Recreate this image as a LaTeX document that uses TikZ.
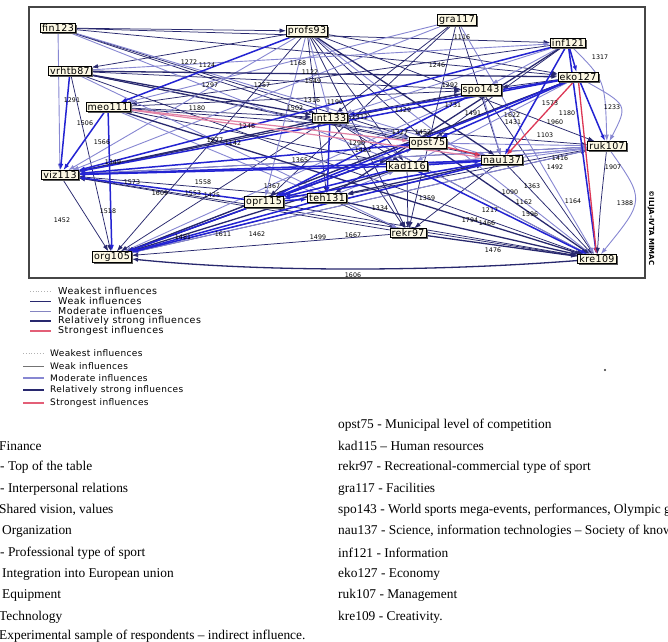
\documentclass[tikz,border=0pt]{standalone}
\usepackage{fontspec}
\setmainfont{Liberation Serif}
\newfontfamily\labfont{DejaVu Sans}
\newfontfamily\legfont[LetterSpace=5]{DejaVu Sans}
\newfontfamily\legfontb[LetterSpace=4]{DejaVu Sans}
\newfontfamily\boxfont[LetterSpace=4]{DejaVu Sans}
\usetikzlibrary{arrows.meta,shadows}
\definecolor{weakc}{RGB}{40,40,110}
\definecolor{modc}{RGB}{135,135,210}
\definecolor{rsc}{RGB}{35,35,210}
\definecolor{strc}{RGB}{220,55,85}
\definecolor{pinkc}{RGB}{225,130,165}
\definecolor{boxc}{RGB}{252,248,228}
\definecolor{framec}{RGB}{70,70,70}
\begin{document}
\begin{tikzpicture}[x=1pt,y=-1pt,
  lab/.style={draw=black,line width=0.8pt,fill=boxc,inner xsep=1.6pt,inner ysep=0.9pt,
    font=\boxfont\fontsize{9.5}{10}\selectfont,
    drop shadow={shadow xshift=1.6pt,shadow yshift=-1.6pt,fill=black!65,opacity=1}},
  ghost/.style={inner xsep=1.6pt,inner ysep=0.9pt,font=\boxfont\fontsize{9.5}{10}\selectfont,text opacity=0},
  num/.style={font=\labfont\fontsize{6.3}{6.3}\selectfont,inner sep=0.5pt},
  tip/.style={-{Latex[length=6.5pt,width=4.5pt]}},
  weak/.style={tip,draw=weakc,line width=0.75pt},
  mod/.style={tip,draw=modc,line width=0.9pt},
  rs/.style={tip,draw=rsc,line width=1.5pt},
  rsd/.style={tip,draw=weakc,line width=1.3pt},
  strong/.style={tip,draw=strc,line width=1.3pt},
  pink/.style={tip,draw=pinkc,line width=1.2pt},
  lg1/.style={draw=black!30,dotted,line width=0.8pt},
  lg2/.style={draw=weakc,line width=0.8pt},
  lg3/.style={draw=modc!80!gray,line width=1pt},
  lg4/.style={draw=weakc,line width=1.6pt},
  lg5/.style={draw=strc!80,line width=1.6pt},
  lh1/.style={draw=black!30,dotted,line width=0.8pt},
  lh2/.style={draw=black!55,line width=0.9pt},
  lh3/.style={draw=modc,line width=1.1pt},
  lh4/.style={draw=weakc,line width=1.7pt},
  lh5/.style={draw=strc!80,line width=1.7pt},
  legtxt/.style={font=\legfont\fontsize{9.5}{9.5}\selectfont,anchor=west,inner sep=0pt},
  legtxtb/.style={font=\legfontb\fontsize{9}{9}\selectfont,anchor=west,inner sep=0pt},
  txt/.style={font=\fontsize{13.4}{15}\selectfont,anchor=west,inner sep=0pt}]
\useasboundingbox (0,0) rectangle (668,641);
\clip (0,0) rectangle (668,641);
\fill[white] (0,0) rectangle (668,641);
% frame
\draw[framec,line width=1.4pt] (29,7) rectangle (645,278);
% positions
\path
  (58,28) coordinate (pfin) (70,71) coordinate (pvrh) (108,107) coordinate (pmeo)
  (60,175) coordinate (pviz) (112,257) coordinate (porg) (307,31) coordinate (pprof)
  (457,20) coordinate (pgra) (568,43) coordinate (pinf) (578,77) coordinate (peko)
  (481,90) coordinate (pspo) (330,118) coordinate (pint) (428,143) coordinate (popst)
  (407,166) coordinate (pkad) (502,160) coordinate (pnau) (607,146) coordinate (pruk)
  (264,202) coordinate (popr) (327,198) coordinate (pteh) (408,233) coordinate (prekr)
  (597,259) coordinate (pkre);
% invisible sizing nodes for connectors
\foreach \n/\t in {fin/fin123,vrh/vrhtb87,meo/meo111,viz/viz113,org/org105,prof/profs93,
  gra/gra117,inf/inf121,eko/eko127,spo/spo143,int/int133,opst/opst75,kad/kad116,
  nau/nau137,ruk/ruk107,opr/opr115,teh/teh131,rekr/rekr97,kre/kre109}
  \node[ghost] (\n) at (p\n) {\t};
% edges
\foreach \a/\b in {fin/inf,fin/opst,fin/int,fin/eko,vrh/org,vrh/nau,vrh/kre,vrh/spo,
  meo/kad,meo/int,meo/ruk,prof/vrh,prof/kad,prof/opst,prof/eko,prof/ruk,prof/teh,
  prof/rekr,prof/org,gra/nau,gra/int,gra/rekr,inf/opst,inf/meo,eko/spo,spo/viz,
  spo/int,spo/kre,int/kre,int/org,int/kad,int/rekr,kad/rekr,nau/kre,nau/rekr,ruk/teh,
  opr/kre,teh/viz,teh/rekr,rekr/org,rekr/viz,viz/org,viz/kre,org/nau,viz/ruk,org/ruk,
  viz/spo,org/eko,fin/prof,meo/spo,vrh/opst,gra/opr}
  \draw[weak] (\a) -- (\b);
\foreach \a/\b in {fin/viz,fin/nau,vrh/inf,meo/teh,prof/viz,prof/int,prof/opr,prof/kre,
  gra/viz,gra/kre,inf/int,inf/spo,spo/nau,spo/org,int/opst,opst/ruk,kad/ruk,nau/ruk,
  ruk/viz,ruk/org,ruk/kad,eko/kad,kre/int,viz/nau,org/opst,teh/kad,opr/nau,fin/kad,
  vrh/rekr,gra/meo}
  \draw[mod] (\a) -- (\b);
\foreach \a/\b in {vrh/eko,meo/kre,inf/teh,eko/org,opst/org,kad/org,teh/kre,rekr/kre,
  opst/kre,int/viz,nau/teh,vrh/int,prof/nau}
  \draw[rsd] (\a) -- (\b);
\foreach \a/\b in {vrh/viz,meo/viz,meo/org,prof/meo,inf/eko,inf/kre,inf/nau,inf/viz,
  eko/ruk,eko/opst,eko/viz,eko/int,eko/opr,int/teh,opst/viz,opst/opr,kad/viz,kad/kre,
  kad/opr,kad/nau,nau/viz,nau/org,nau/opr,opr/viz,opr/org,opr/teh,teh/org,spo/opr}
  \draw[rs] (\a) -- (\b);
\foreach \a/\b in {meo/opst,meo/nau}
  \draw[pink] (\a) -- (\b);
\foreach \a/\b in {eko/nau,eko/kre,opst/nau}
  \draw[strong] (\a) -- (\b);
% curved connectors
\draw[mod] (inf) .. controls (605,80) .. (ruk);
\draw[mod] (eko) .. controls (628,105) .. (ruk);
\draw[mod] (ruk) .. controls (645,200) .. (kre);
\draw[weak] (ruk) .. controls (600,210) .. (kre);
\draw[rsd] (kre) .. controls (430,272) and (260,272) .. (org);
% number labels
\foreach \x/\y/\t [count=\i] in {
  189/62/1272,207/65/1124,210/85/1297,262/85/1257,298/63/1168,310/72/1122,313/81/1549,
  437/65/1246,462/37/1116,600/57/1317,612/107/1233,72/100/1291,197/108/1180,85/123/1506,
  102/142/1566,113/162/1349,132/182/1573,203/182/1558,160/193/1609,193/193/1553,
  62/220/1452,108/211/1518,183/237/1481,223/234/1611,257/234/1462,318/237/1499,
  353/235/1667,353/275/1606,312/100/1316,335/102/1190,295/108/1502,403/110/1329,
  400/132/1327,423/132/1452,360/117/1312,450/85/1292,453/105/1731,473/113/1491,
  512/115/1622,513/122/1431,550/103/1573,567/113/1180,555/122/1960,545/135/1103,
  560/158/1416,555/167/1492,613/167/1907,625/203/1388,573/201/1164,532/186/1363,
  510/192/1090,524/202/1162,530/214/1596,490/210/1217,470/220/1794,487/223/1466,
  493/250/1476,427/198/1359,380/208/1334,357/143/1290,363/150/1483,247/126/1246,
  215/140/1277,233/143/1142,300/160/1365,272/186/1367,212/195/1425}
  \node[num] (num\i) at (\x,\y) {\t};
% visible boxes
\foreach \n/\t in {fin/fin123,vrh/vrhtb87,meo/meo111,viz/viz113,org/org105,prof/profs93,
  gra/gra117,inf/inf121,eko/eko127,spo/spo143,int/int133,opst/opst75,kad/kad116,
  nau/nau137,ruk/ruk107,opr/opr115,teh/teh131,rekr/rekr97,kre/kre109}
  \node[lab] (box\n) at (p\n) {\t};
% vertical copyright text
\node[font=\labfont\bfseries\fontsize{7}{7}\selectfont,rotate=-90,inner sep=0pt] (copy) at (651,228) {©ILIJA-IVTA MIMAC};
% legend 1
\foreach \y/\t [count=\i] in {291/Weakest influences,301/Weak influences,
  311/Moderate influences,321/Relatively strong influences,331/Strongest influences}{
  \coordinate (la\i) at (30,\y); \coordinate (lb\i) at (51,\y);
  \draw[lg\i] (la\i) -- (lb\i);
  \node[legtxt] (lt\i) at (58,\y) {\t};
}
% legend 2
\foreach \y/\t [count=\i] in {353/Weakest influences,366/Weak influences,
  378/Moderate influences,390/Relatively strong influences,403/Strongest influences}{
  \coordinate (ma\i) at (23,\y); \coordinate (mb\i) at (44,\y);
  \draw[lh\i] (ma\i) -- (mb\i);
  \node[legtxtb] (mt\i) at (50,\y) {\t};
}
\coordinate (dot) at (605,370);
\fill[black!80] (dot) circle (1.1pt);
% explanation texts, left column
\foreach \x/\y/\t [count=\i] in {
  -1/446/Finance,
  0/467/- Top of the table,
  0/489/- Interpersonal relations,
  -1/510/{Shared vision, values},
  2/531/Organization,
  0/553/- Professional type of sport,
  2/574/Integration into European union,
  2/595/Equipment,
  -1/617/Technology,
  -1/636/Experimental sample of respondents – indirect influence.}
  \node[txt] (lc\i) at (\x,\y) {\t};
% right column
\foreach \y/\t [count=\i] in {
  425/opst75 - Municipal level of competition,
  446/kad115 – Human resources,
  467/rekr97 - Recreational-commercial type of sport,
  489/gra117 - Facilities,
  510/{spo143 - World sports mega-events, performances, Olympic g},
  531/{nau137 - Science, information technologies – Society of know},
  553/inf121 - Information,
  574/eko127 - Economy,
  595/ruk107 - Management,
  617/kre109 - Creativity.}
  \node[txt] (rc\i) at (338,\y) {\t};
\end{tikzpicture}
\end{document}
